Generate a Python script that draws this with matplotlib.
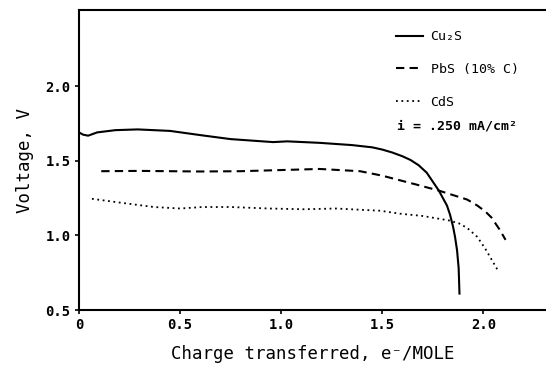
import matplotlib
matplotlib.use('Agg')
import matplotlib.pyplot as plt
from matplotlib.lines import Line2D

plt.rcParams['font.family'] = ['DejaVu Sans Mono', 'DejaVu Sans']

# Cu2S (solid)
cu_x = [0.0, 0.02, 0.045, 0.09, 0.18, 0.29, 0.45, 0.61, 0.75, 0.96, 1.03, 1.19, 1.35, 1.45,
        1.50, 1.55, 1.60, 1.64, 1.68, 1.72, 1.75, 1.78, 1.80, 1.82, 1.835, 1.85, 1.86, 1.87, 1.878, 1.882]
cu_y = [1.69, 1.675, 1.668, 1.69, 1.705, 1.71, 1.70, 1.67, 1.645, 1.625, 1.63, 1.62, 1.605, 1.59,
        1.575, 1.555, 1.53, 1.505, 1.47, 1.42, 1.36, 1.30, 1.25, 1.20, 1.14, 1.06, 0.99, 0.90, 0.78, 0.61]

# PbS (10% C) (dashed)
pbs_x = [0.11, 0.3, 0.6, 0.8, 1.06, 1.19, 1.39, 1.50, 1.67, 1.78, 1.92, 1.97, 2.01, 2.04, 2.08, 2.11]
pbs_y = [1.43, 1.432, 1.428, 1.43, 1.44, 1.445, 1.43, 1.40, 1.34, 1.30, 1.24, 1.20, 1.16, 1.12, 1.04, 0.97]

# CdS (dotted)
cds_x = [0.064, 0.20, 0.37, 0.50, 0.61, 0.75, 0.94, 1.11, 1.27, 1.49, 1.59, 1.70, 1.83, 1.88, 1.92, 1.97, 2.01, 2.07]
cds_y = [1.245, 1.22, 1.19, 1.18, 1.19, 1.19, 1.18, 1.175, 1.18, 1.165, 1.145, 1.13, 1.10, 1.08, 1.05, 0.99, 0.91, 0.77]

xticks = [0, 0.5, 1.0, 1.5, 2.0]
xtick_labels = ['0', '0.5', '1.0', '1.5', '2.0']
yticks = [0.5, 1.0, 1.5, 2.0]
ytick_labels = ['0.5', '1.0', '1.5', '2.0']

fig = plt.figure(figsize=(5.46, 3.68), dpi=100)
ax = fig.add_axes([0.1447, 0.1576, 0.8553, 0.8152])

ax.plot(cu_x, cu_y, color='black', linewidth=1.5, linestyle='-')
ax.plot(pbs_x, pbs_y, color='black', linewidth=1.5, linestyle=(0, (4, 2.5)))
ax.plot(cds_x, cds_y, color='black', linewidth=1.3, linestyle=(0, (1, 2)))

ax.set_xlim(0, 2.31)
ax.set_ylim(0.5, 2.51)
ax.spines['right'].set_visible(False)
for s in ['left', 'bottom', 'top']:
    ax.spines[s].set_linewidth(1.5)

ax.set_xticks(xticks)
ax.set_xticklabels(xtick_labels, fontsize=10, fontweight='bold')
ax.set_yticks(yticks)
ax.set_yticklabels(ytick_labels, fontsize=10, fontweight='bold')
ax.tick_params(direction='out', length=3, width=1.2, pad=3)

ax.set_xlabel('Charge transferred, e\u207b/MOLE', fontsize=12.5, labelpad=9)
ax.set_ylabel('Voltage, V', fontsize=12.5, labelpad=8)

handles = [Line2D([], [], color='black', linewidth=1.5, linestyle='-'),
           Line2D([], [], color='black', linewidth=1.5, linestyle=(0, (4, 2.5))),
           Line2D([], [], color='black', linewidth=1.3, linestyle=(0, (1, 2)))]
labels = ['Cu\u2082S', 'PbS (10% C)', 'CdS']
ax.legend(handles, labels, loc='upper left', bbox_to_anchor=(0.668, 0.95), frameon=False,
          fontsize=9.5, handlelength=2.0, handletextpad=0.6, labelspacing=1.5,
          borderaxespad=0)
ax.text(0.68, 0.615, 'i = .250 mA/cm\u00b2', transform=ax.transAxes, fontsize=9.5,
        fontweight='bold', ha='left', va='center')

fig.savefig('out.png', dpi=100)
